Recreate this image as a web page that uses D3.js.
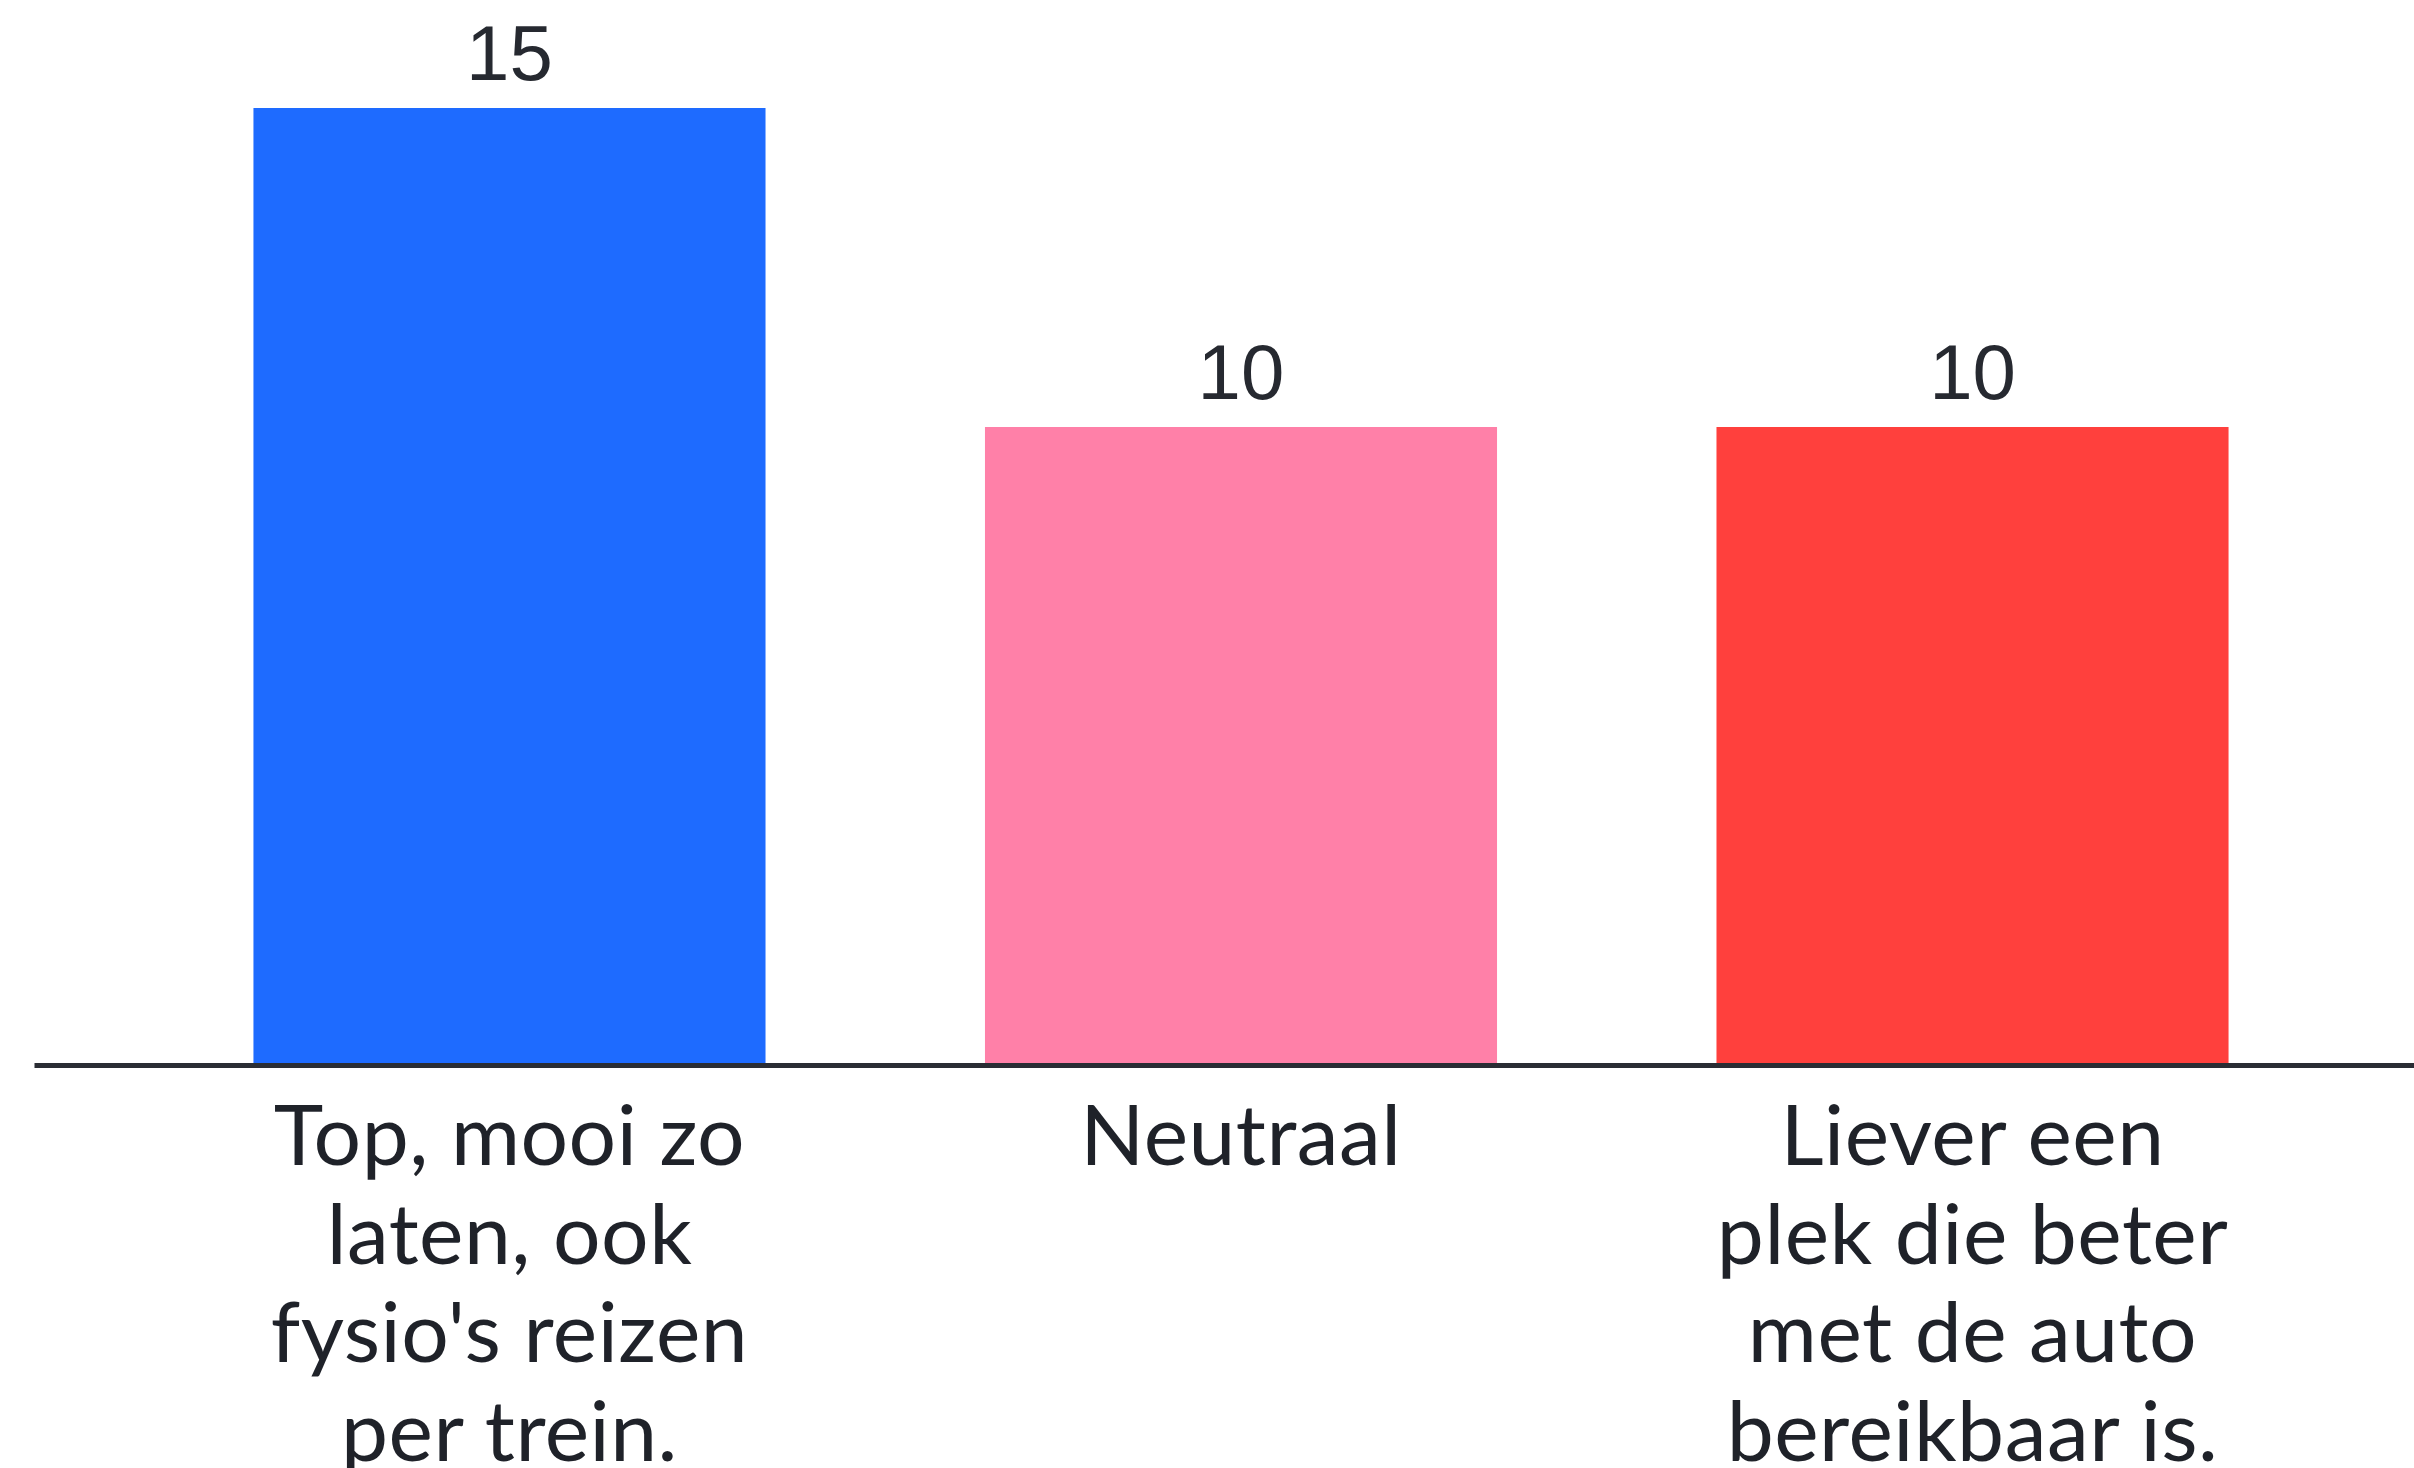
<!DOCTYPE html>
<html>
<head>
<meta charset="utf-8">
<script src="https://cdn.jsdelivr.net/npm/d3@7"></script>
<style>
  html, body { margin: 0; padding: 0; background: #ffffff; }
  svg { display: block; }
</style>
</head>
<body>
<script>
const categories = ["Top, mooi zo laten, ook fysio's reizen per trein.", "Neutraal", "Liever een plek die beter met de auto bereikbaar is."];
const categoryLines = [
  ["Top, mooi zo", "laten, ook", "fysio's reizen", "per trein."],
  ["Neutraal"],
  ["Liever een", "plek die beter", "met de auto", "bereikbaar is."]
];
const values = [15, 10, 10];
const colors = ["#1e6bff", "#ff80a8", "#ff403d"];

const W = 2414, H = 1468;
const svg = d3.select("body").append("svg").attr("width", W).attr("height", H);

const x = d3.scaleBand().domain(categories).range([34, 2448]).paddingInner(0.3).paddingOuter(0.3);
const y = d3.scaleLinear().domain([0, 15]).range([1065, 108]);

svg.selectAll("rect.bar").data(values).enter().append("rect")
  .attr("class", "bar")
  .attr("x", (d, i) => x(categories[i]))
  .attr("width", x.bandwidth())
  .attr("y", d => y(d))
  .attr("height", d => y(0) - y(d))
  .attr("fill", (d, i) => colors[i]);

svg.selectAll("text.val").data(values).enter().append("text")
  .attr("class", "val")
  .attr("x", (d, i) => x(categories[i]) + x.bandwidth() / 2)
  .attr("y", d => y(d) - 28)
  .attr("text-anchor", "middle")
  .attr("font-family", "'Liberation Sans', Arial, sans-serif")
  .attr("font-size", 78)
  .attr("fill", "#262930")
  .text(d => d);

// axis baseline
const axis = d3.axisBottom(x).tickSize(0).tickFormat("");
const ag = svg.append("g").attr("transform", `translate(0,${y(0)})`).call(axis);
ag.select(".domain").attr("stroke", "#2a2d34").attr("stroke-width", 5);

const lab = svg.selectAll("text.cat").data(categories).enter().append("text")
  .attr("class", "cat")
  .attr("x", d => x(d) + x.bandwidth() / 2)
  .attr("y", 1165)
  .attr("text-anchor", "middle")
  .attr("font-family", "Lato, 'Open Sans', sans-serif")
  .attr("font-size", 84)
  .attr("letter-spacing", 0.5)
  .attr("fill", "#1f2229");
lab.each(function(d, i) {
  const t = d3.select(this);
  categoryLines[i].forEach((line, j) => {
    t.append("tspan")
      .attr("x", x(d) + x.bandwidth() / 2)
      .attr("y", 1165 + j * 98.5)
      .text(line);
  });
});
</script>
</body>
</html>
